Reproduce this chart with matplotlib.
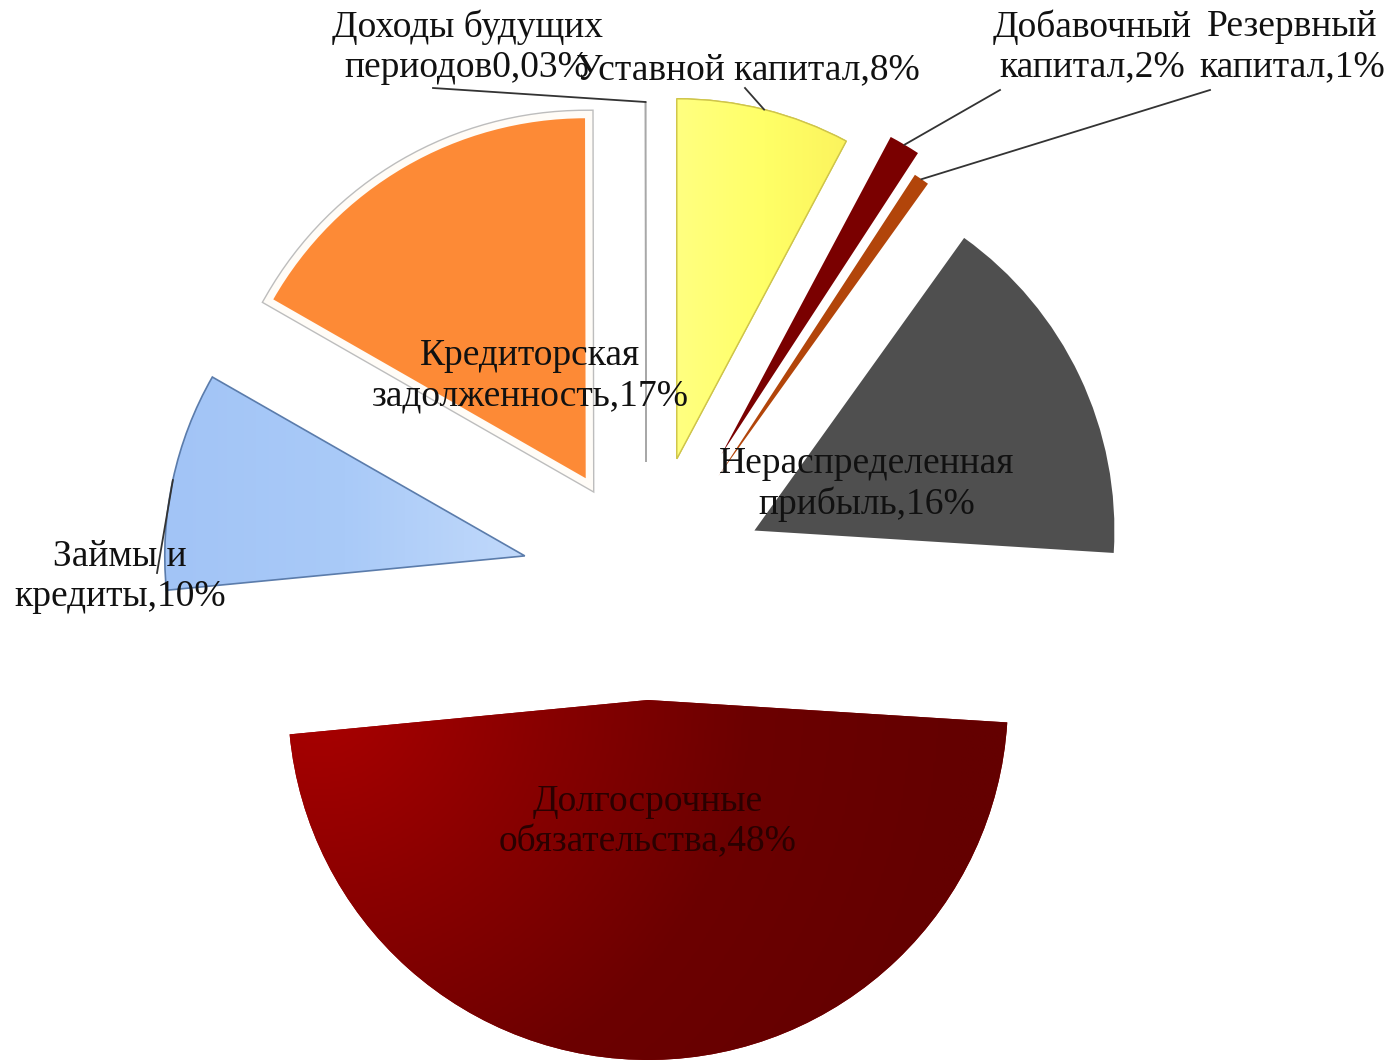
import numpy as np
import matplotlib
matplotlib.use('Agg')
import matplotlib.pyplot as plt
from matplotlib import patheffects as pe
from matplotlib.colors import LinearSegmentedColormap

# ---- data ----
categories = ['Уставной капитал', 'Добавочный капитал', 'Резервный капитал',
              'Нераспределенная прибыль', 'Долгосрочные обязательства',
              'Займы и кредиты', 'Кредиторская задолженность',
              'Доходы будущих периодов']
shares = [7.8, 1.4, 0.7, 16.1, 47.5, 9.8, 16.7, 0.03]
label_texts = ['Уставной капитал,8%', 'Добавочный\nкапитал,2%', 'Резервный\nкапитал,1%',
               'Нераспределенная\nприбыль,16%', 'Долгосрочные\nобязательства,48%',
               'Займы и\nкредиты,10%', 'Кредиторская\nзадолженность,17%',
               'Доходы будущих\nпериодов0,03%']

# ---- style ----
W, H = 1395, 1064
R = 360
CENTER = (646, H - 582)
explode = [127, 148, 128, 120, 118, 124, 120, 120]
colors = ['#ffff66', '#7a0000', '#b2450a', '#4f4f4f', '#8c0000',
          '#a9c9f8', '#fd8a36', '#ffffff']
FONT = 'Liberation Serif'
FS = 27

fig = plt.figure(figsize=(W / 100, H / 100), dpi=100)
ax = fig.add_axes([0, 0, 1, 1])

wedges, _ = ax.pie(shares, explode=explode, colors=colors, radius=R,
                   center=CENTER, startangle=90, counterclock=False,
                   wedgeprops=dict(linewidth=0))
ax.set_xlim(0, W)
ax.set_ylim(0, H)
ax.set_aspect('equal')
ax.axis('off')

# edges
wedges[0].set_edgecolor('#cfc54a'); wedges[0].set_linewidth(1.0)
wedges[7].set_edgecolor('#a8a8a8'); wedges[7].set_linewidth(1.0)

# orange wedge with white/gray border
wedges[6].set_path_effects([pe.Stroke(linewidth=12.5, foreground='#bdbdbd'),
                            pe.Stroke(linewidth=10.5, foreground='#fffcf7'),
                            pe.Normal()])


def gradient_fill(w, fn, cmap, z):
    cx, cy = w.center
    r = w.r
    xs = np.linspace(cx - r, cx + r, 300)
    ys = np.linspace(cy - r, cy + r, 300)
    X, Y = np.meshgrid(xs, ys)
    T = fn(X, Y)
    im = ax.imshow(T, extent=(cx - r, cx + r, cy - r, cy + r), origin='lower',
                   cmap=cmap, vmin=0, vmax=1, zorder=z, interpolation='bilinear')
    im.set_clip_path(w)
    return im


# long-term obligations: radial-ish gradient from upper-left
red_cmap = LinearSegmentedColormap.from_list('r', ['#ab0000', '#8a0000', '#6c0000', '#640000'])
wb = wedges[4]
px, py = wb.center[0] - 330, wb.center[1] + 10
gradient_fill(wb, lambda X, Y: np.clip(np.hypot(X - px, Y - py) / 650, 0, 1), red_cmap, 1.5)

# loans: light blue gradient
blue_cmap = LinearSegmentedColormap.from_list('b', ['#a2c4f6', '#a9caf8', '#c1d9fb'])
wl = wedges[5]
x0 = wl.center[0] - wl.r
gradient_fill(wl, lambda X, Y: np.clip((X - x0) / wl.r, 0, 1), blue_cmap, 1.5)
ax.add_patch(matplotlib.patches.Wedge(wl.center, wl.r, wl.theta1, wl.theta2,
                                      facecolor='none', edgecolor='#5b7cab',
                                      linewidth=1.2, zorder=1.6))

# yellow soft gradient
yel_cmap = LinearSegmentedColormap.from_list('y', ['#ffff80', '#ffff66', '#fbf25c'])
wy = wedges[0]
xy0 = wy.center[0]
gradient_fill(wy, lambda X, Y: np.clip((X - xy0) / (wy.r * 0.5), 0, 1), yel_cmap, 1.5)
ax.add_patch(matplotlib.patches.Wedge(wy.center, wy.r, wy.theta1, wy.theta2,
                                      facecolor='none', edgecolor='#cfc54a',
                                      linewidth=1.0, zorder=1.6))


def arc_mid(w):
    th = np.deg2rad((w.theta1 + w.theta2) / 2)
    return w.center[0] + w.r * np.cos(th), w.center[1] + w.r * np.sin(th)


def img(x, y):
    return x, H - y


# label positions (image pixel coords of text-block centre)
label_pos = [(748, 70), (1092, 47), (1292, 47), (867, 484), (648, 822),
             (120, 577), (530, 376), (467, 47)]
text_colors = ['#111111'] * 8
text_colors[4] = '#2a0000'
for txt, (lx, ly), c in zip(label_texts, label_pos, text_colors):
    ax.text(*img(lx, ly), txt, ha='center', va='center', fontsize=FS,
            family=FONT, color=c, linespacing=1.2, zorder=5)

# leader lines
leader_ends = {0: (745, 88), 1: (1000, 90), 2: (1210, 90), 5: (157, 573)}
for i, (ex, ey) in leader_ends.items():
    mx, my = arc_mid(wedges[i])
    X2, Y2 = img(ex, ey)
    ax.plot([mx, X2], [my, Y2], color='#333333', lw=1.3, zorder=4)

# future income: leader from tiny slice outer point to label
mx, my = arc_mid(wedges[7])
X2, Y2 = img(433, 88)
ax.plot([mx, X2], [my, Y2], color='#333333', lw=1.3, zorder=4)

fig.savefig('out.png', dpi=100, facecolor='white')
